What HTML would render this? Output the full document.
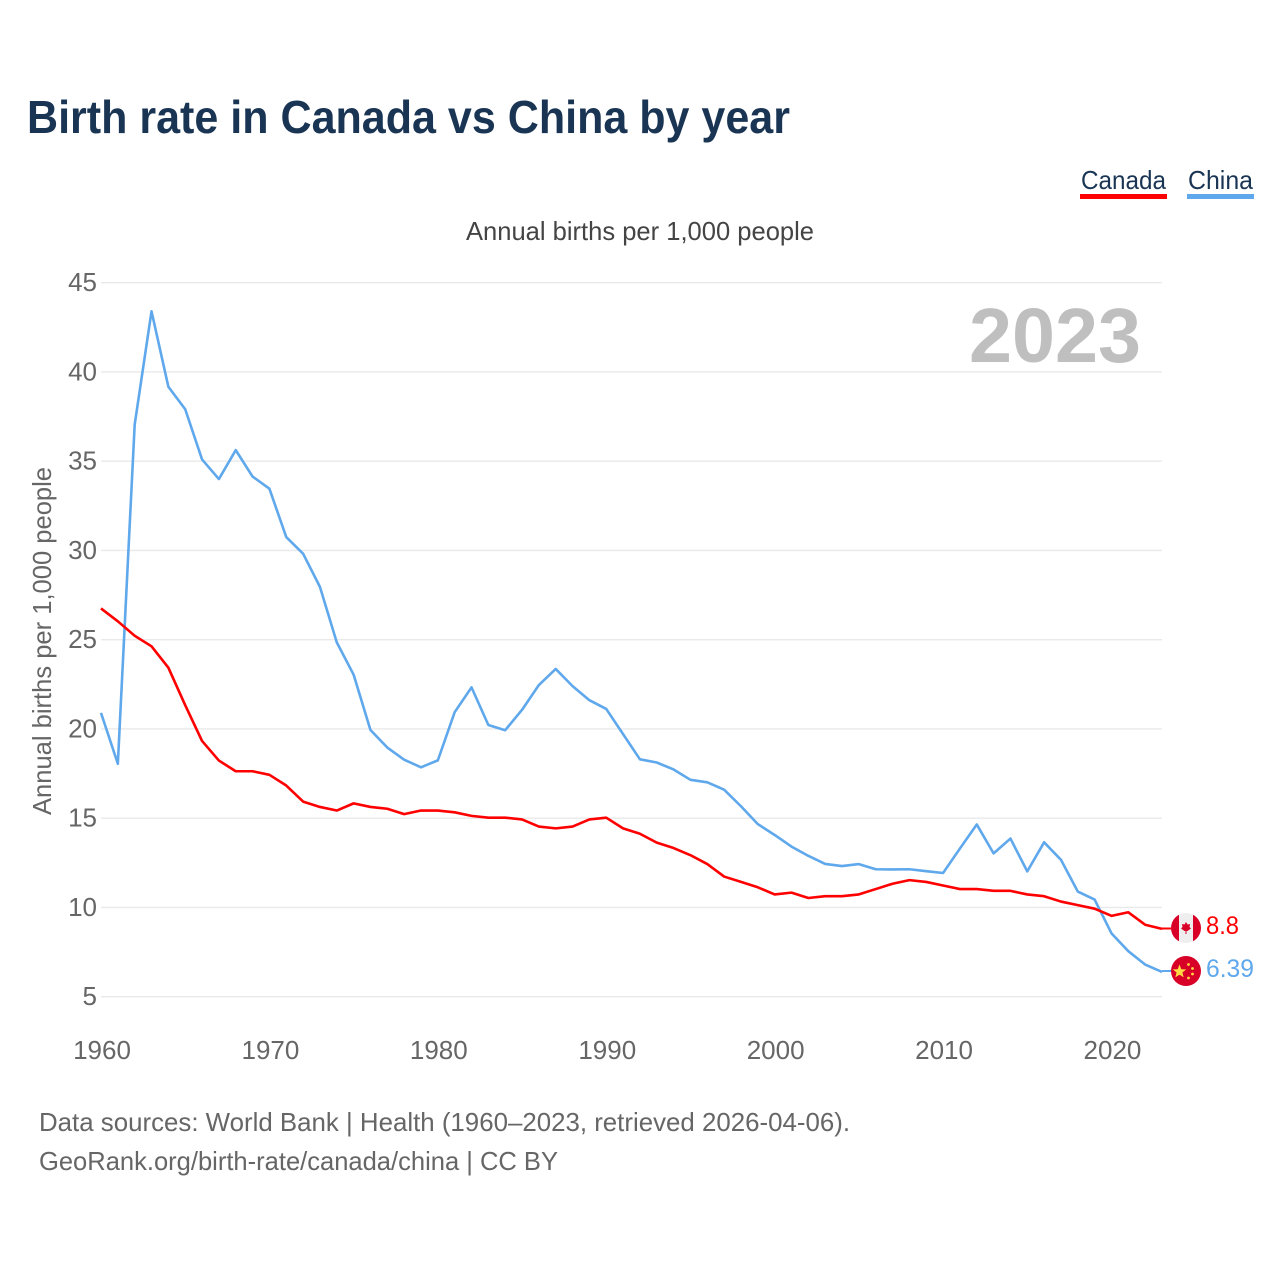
<!DOCTYPE html>
<html lang="en">
<head>
<meta charset="utf-8">
<title>Birth rate in Canada vs China by year</title>
<style>
html,body{margin:0;padding:0;background:#fff;}
svg{display:block;font-family:"Liberation Sans",sans-serif;}
</style>
</head>
<body>
<svg id="chart" xmlns="http://www.w3.org/2000/svg" width="1280" height="1280" viewBox="0 0 1280 1280">
  <rect x="0" y="0" width="1280" height="1280" fill="#fff"/>
  <text x="27" y="133" font-size="46" font-weight="700" fill="#1a3554" textLength="763" lengthAdjust="spacingAndGlyphs">Birth rate in Canada vs China by year</text>

  <g>
    <text x="1081" y="189" font-size="26" fill="#1a3554" textLength="85" lengthAdjust="spacingAndGlyphs">Canada</text>
    <rect x="1080" y="194" width="87" height="5" fill="#ff0000"/>
  </g>
  <g>
    <text x="1188" y="189" font-size="26" fill="#1a3554" textLength="65" lengthAdjust="spacingAndGlyphs">China</text>
    <rect x="1187" y="194" width="67" height="5" fill="#5fa8ec"/>
  </g>

  <text x="466" y="240" font-size="26" fill="#444" textLength="348" lengthAdjust="spacingAndGlyphs">Annual births per 1,000 people</text>

  <g id="y-axis"></g>
  <g id="x-axis"></g>

  <text transform="translate(51,815) rotate(-90)" x="0" y="0" font-size="26" fill="#666" textLength="348" lengthAdjust="spacingAndGlyphs">Annual births per 1,000 people</text>

  <text x="969" y="362" font-size="77" font-weight="700" fill="#bfbfbf" textLength="172" lengthAdjust="spacingAndGlyphs">2023</text>

  <g id="series"></g>

  <g>
    <line x1="1162" y1="928.5" x2="1175" y2="928.5" stroke="#ff0000" stroke-width="2"/>
    <clipPath id="clip-ca"><circle cx="1186" cy="928" r="15"/></clipPath>
    <g clip-path="url(#clip-ca)">
      <rect x="1171" y="913" width="30" height="30" fill="#eeeeee"/>
      <rect x="1171" y="913" width="8" height="30" fill="#d80027"/>
      <rect x="1193" y="913" width="8" height="30" fill="#d80027"/>
      <polygon points="1186,922 1187.5,924.5 1190,924 1189.5,927 1191,928.5 1187.5,931 1186.5,931 1186.5,934 1185.5,934 1185.5,931 1184.5,931 1181,928.5 1182.5,927 1182,924 1184.5,924.5" fill="#d80027"/>
    </g>
    <text x="1206" y="934" font-size="25" fill="#ff0000" textLength="33" lengthAdjust="spacingAndGlyphs">8.8</text>
  </g>
  <g>
    <line x1="1162" y1="971" x2="1175" y2="971" stroke="#5fa8ec" stroke-width="2"/>
    <circle cx="1186" cy="971" r="15" fill="#d80027"/>
    <polygon points="1179.5,964.5 1181.3,969.2 1186.3,969.4 1182.4,972.5 1183.7,977.4 1179.5,974.6 1175.3,977.4 1176.6,972.5 1172.7,969.4 1177.7,969.2" fill="#ffda44"/>
    <circle cx="1188.5" cy="964.5" r="1.4" fill="#ffda44"/>
    <circle cx="1192.5" cy="968.5" r="1.4" fill="#ffda44"/>
    <circle cx="1192.5" cy="974" r="1.4" fill="#ffda44"/>
    <circle cx="1188.5" cy="978" r="1.4" fill="#ffda44"/>
    <text x="1206" y="977" font-size="25" fill="#5fa8ec" textLength="48" lengthAdjust="spacingAndGlyphs">6.39</text>
  </g>

  <text x="39" y="1131" font-size="26" fill="#666" textLength="811" lengthAdjust="spacingAndGlyphs">Data sources: World Bank | Health (1960–2023, retrieved 2026-04-06).</text>
  <text x="39" y="1170" font-size="26" fill="#666" textLength="519" lengthAdjust="spacingAndGlyphs">GeoRank.org/birth-rate/canada/china | CC BY</text>
</svg>
<script>
const firstYear = 1960;
const yTickValues = [5, 10, 15, 20, 25, 30, 35, 40, 45];
const xTickValues = [1960, 1970, 1980, 1990, 2000, 2010, 2020];
const canadaValues = [26.75,26.03,25.22,24.63,23.43,21.33,19.33,18.23,17.63,17.63,17.43,16.83,15.93,15.63,15.43,15.83,15.63,15.53,15.23,15.43,15.43,15.33,15.13,15.03,15.03,14.93,14.53,14.43,14.53,14.93,15.03,14.43,14.13,13.63,13.33,12.93,12.43,11.73,11.43,11.13,10.73,10.83,10.53,10.63,10.63,10.73,11.03,11.33,11.53,11.43,11.23,11.03,11.03,10.93,10.93,10.73,10.63,10.33,10.13,9.93,9.53,9.73,9.03,8.8];
const chinaValues = [20.9,18.05,37.05,43.4,39.17,37.91,35.1,34.0,35.62,34.14,33.46,30.75,29.82,27.96,24.85,23.04,19.94,18.96,18.28,17.85,18.24,20.94,22.33,20.22,19.93,21.07,22.46,23.36,22.4,21.61,21.12,19.71,18.3,18.12,17.73,17.15,17.01,16.6,15.67,14.67,14.06,13.41,12.89,12.44,12.32,12.43,12.14,12.13,12.14,12.03,11.93,13.3,14.65,13.03,13.86,12.02,13.65,12.67,10.89,10.44,8.55,7.55,6.8,6.39];

const NS = 'http://www.w3.org/2000/svg';
const xScale = function (year) { return 101 + (year - 1960) * (1162 - 101) / 63; };
const yScale = function (value) { return 996.7 - (value - 5) * (996.7 - 282.7) / 40; };

const yAxis = document.getElementById('y-axis');
yTickValues.forEach(function (v) {
  const grid = document.createElementNS(NS, 'line');
  
  
  grid.setAttribute('x1', 101);
  grid.setAttribute('x2', 1162);
  grid.setAttribute('y1', yScale(v));
  grid.setAttribute('y2', yScale(v));
  grid.setAttribute('stroke', '#e9e9e9');
  grid.setAttribute('stroke-width', 1.4);
  yAxis.appendChild(grid);
  const label = document.createElementNS(NS, 'text');
  
  
  label.setAttribute('x', 97);
  label.setAttribute('y', yScale(v) + 8.5);
  label.setAttribute('text-anchor', 'end');
  label.setAttribute('font-size', 26);
  label.setAttribute('fill', '#666');
  label.textContent = String(v);
  yAxis.appendChild(label);
});

const xAxis = document.getElementById('x-axis');
xTickValues.forEach(function (yr) {
  const label = document.createElementNS(NS, 'text');
  
  
  label.setAttribute('x', xScale(yr) + 1);
  label.setAttribute('y', 1059);
  label.setAttribute('text-anchor', 'middle');
  label.setAttribute('font-size', 26);
  label.setAttribute('fill', '#666');
  label.textContent = String(yr);
  xAxis.appendChild(label);
});

function linePoints(values) {
  return values.map(function (v, i) {
    return xScale(firstYear + i).toFixed(2) + ',' + yScale(v).toFixed(2);
  }).join(' ');
}

const seriesGroup = document.getElementById('series');

const chinaLine = document.createElementNS(NS, 'polyline');


chinaLine.setAttribute('points', linePoints(chinaValues));
chinaLine.setAttribute('fill', 'none');
chinaLine.setAttribute('stroke', '#5fa8ec');
chinaLine.setAttribute('stroke-width', 2.6);
chinaLine.setAttribute('stroke-linejoin', 'round');
seriesGroup.appendChild(chinaLine);

const canadaLine = document.createElementNS(NS, 'polyline');


canadaLine.setAttribute('points', linePoints(canadaValues));
canadaLine.setAttribute('fill', 'none');
canadaLine.setAttribute('stroke', '#ff0000');
canadaLine.setAttribute('stroke-width', 2.6);
canadaLine.setAttribute('stroke-linejoin', 'round');
seriesGroup.appendChild(canadaLine);
</script>
</body>
</html>
